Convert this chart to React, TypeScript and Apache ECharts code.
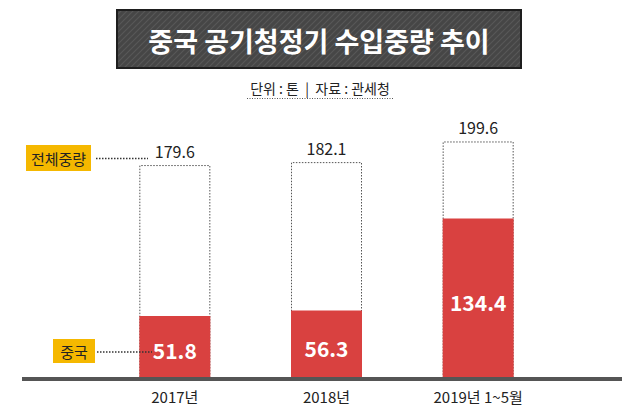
import React, { useEffect, useRef } from "react";
import * as echarts from "echarts";

const categories = ["2017년", "2018년", "2019년 1~5월"];
const totalWeight = [179.6, 182.1, 199.6];
const chinaWeight = [51.8, 56.3, 134.4];
const titleText = "중국 공기청정기 수입중량 추이";
const subtitleText = "단위 : 톤  |  자료 : 관세청";
const totalTag = "전체중량";
const chinaTag = "중국";

const FONT = "'Noto Sans CJK KR', 'Noto Sans', sans-serif";

function makeStripe(): string {
  const c = document.createElement("canvas");
  c.width = 6;
  c.height = 6;
  const ctx = c.getContext("2d")!;
  ctx.fillStyle = "#464646";
  ctx.fillRect(0, 0, 6, 6);
  ctx.strokeStyle = "#585858";
  ctx.lineWidth = 1.2;
  ctx.beginPath();
  ctx.moveTo(-1, 7);
  ctx.lineTo(7, -1);
  ctx.moveTo(-1, 1);
  ctx.lineTo(1, -1);
  ctx.moveTo(5, 7);
  ctx.lineTo(7, 5);
  ctx.stroke();
  return c.toDataURL();
}

export default function App() {
  const ref = useRef<HTMLDivElement>(null);
  useEffect(() => {
    document.body.style.margin = "0";
    const chart = echarts.init(ref.current!, null, { renderer: "svg" });
    const stripe = makeStripe();
    chart.setOption({
      animation: false,
      backgroundColor: "#ffffff",
      textStyle: { fontFamily: FONT },
      grid: { left: 99, right: 86, top: 82, bottom: 33 },
      xAxis: {
        type: "category",
        data: categories,
        axisLine: { show: false },
        axisTick: { show: false },
        axisLabel: { color: "#222", fontSize: 15, margin: 12, fontFamily: FONT },
      },
      yAxis: {
        type: "value",
        min: 0,
        max: 250,
        show: false,
      },
      series: [
        {
          type: "bar",
          name: "전체중량",
          data: totalWeight,
          barWidth: 71,
          barGap: "-100%",
          itemStyle: {
            color: "#ffffff",
            borderColor: "#555",
            borderWidth: 1,
            borderType: [1.5, 1.5],
          },
          label: {
            show: true,
            position: "top",
            distance: 6,
            color: "#222",
            fontSize: 16,
            fontFamily: FONT,
          },
          z: 2,
        },
        {
          type: "bar",
          name: "중국",
          data: chinaWeight,
          barWidth: 71,
          itemStyle: { color: "#d94140" },
          label: {
            show: true,
            position: "inside",
            offset: [0, 4],
            color: "#ffffff",
            fontSize: 21,
            fontWeight: "bold",
            fontFamily: FONT,
          },
          z: 3,
        },
      ],
      graphic: [
        {
          type: "rect",
          shape: { x: 117, y: 10, width: 404, height: 58 },
          style: {
            fill: { image: stripe, repeat: "repeat" },
            stroke: "#1e1e1e",
            lineWidth: 2,
          },
        },
        {
          type: "text",
          x: 319,
          y: 40,
          style: {
            text: titleText,
            fill: "#ffffff",
            fontSize: 27,
            fontWeight: "bold",
            fontFamily: FONT,
            align: "center",
            verticalAlign: "middle",
          },
        },
        {
          type: "text",
          x: 320,
          y: 88,
          style: {
            text: subtitleText,
            fill: "#222",
            fontSize: 14,
            fontFamily: FONT,
            align: "center",
            verticalAlign: "middle",
          },
        },
        {
          type: "line",
          shape: { x1: 247, y1: 98.5, x2: 393, y2: 98.5 },
          style: { stroke: "#555", lineWidth: 1, lineDash: [1, 1.5] },
        },
        {
          type: "rect",
          shape: { x: 26, y: 145, width: 65, height: 26 },
          style: { fill: "#f5b800" },
        },
        {
          type: "text",
          x: 58.5,
          y: 158,
          style: {
            text: totalTag,
            fill: "#222",
            fontSize: 15,
            fontFamily: FONT,
            align: "center",
            verticalAlign: "middle",
          },
        },
        {
          type: "line",
          shape: { x1: 96, y1: 158.5, x2: 148, y2: 158.5 },
          style: { stroke: "#333", lineWidth: 1.5, lineDash: [1.5, 1.5] },
        },
        {
          type: "rect",
          shape: { x: 53, y: 339, width: 42, height: 24 },
          style: { fill: "#f5b800" },
        },
        {
          type: "text",
          x: 74,
          y: 351,
          style: {
            text: chinaTag,
            fill: "#222",
            fontSize: 15,
            fontFamily: FONT,
            align: "center",
            verticalAlign: "middle",
          },
        },
        {
          type: "line",
          shape: { x1: 97, y1: 352, x2: 152, y2: 352 },
          style: { stroke: "#333", lineWidth: 1.5, lineDash: [1.5, 1.5] },
          z: 10,
        },
        {
          type: "rect",
          shape: { x: 22, y: 377, width: 600, height: 4 },
          style: { fill: "#555555" },
          z: 10,
        },
      ],
    });
    return () => chart.dispose();
  }, []);
  return (
    <div
      ref={ref}
      style={{ position: "fixed", left: 0, top: 0, width: 640, height: 410 }}
    />
  );
}
